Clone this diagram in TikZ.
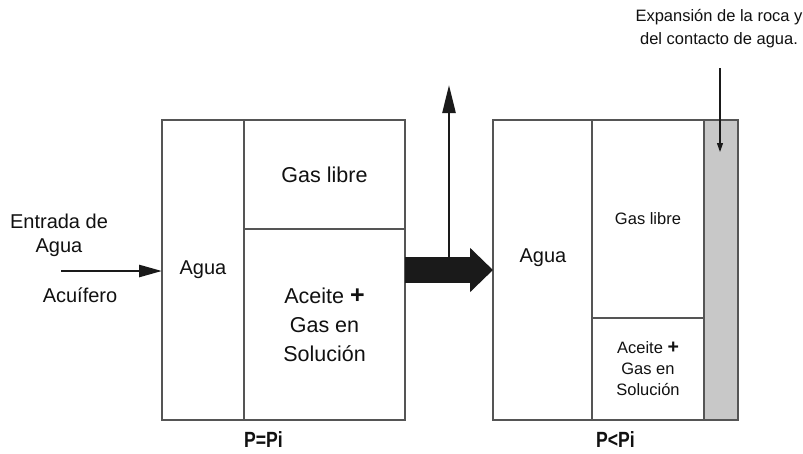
\documentclass[tikz,border=0pt]{standalone}
\usepackage{fontspec}
\setmainfont{Liberation Sans}
\usetikzlibrary{arrows.meta}
\definecolor{boxc}{HTML}{555555}
\definecolor{txt}{HTML}{111111}
\definecolor{stripc}{HTML}{C8C8C8}
\definecolor{arr}{HTML}{1A1A1A}
\begin{document}
\begin{tikzpicture}[x=1pt,y=-1pt,
  cell/.style={draw=boxc, line width=1.3pt, anchor=north west, inner sep=0pt, outer sep=0pt, text=txt, align=center},
  big/.style={font=\fontsize{21.5}{29}\selectfont},
  small/.style={font=\fontsize{16.5}{21}\selectfont},
  side/.style={text=txt, inner sep=0pt, align=center, font=\fontsize{20}{24}\selectfont},
  plabel/.style={text=txt, inner sep=0pt, anchor=west, font=\fontsize{22}{24}\selectfont\bfseries},
  bottomedge/.style={draw=boxc, line width=2.2pt},
  flowarrow/.style={draw=arr, line width=2.6pt, -{Triangle[length=23pt,width=12pt]}}
]
\useasboundingbox[fill=white] (0,0) rectangle (803,453);

% left state
\node[cell, minimum width=82pt, minimum height=300pt, side] (lagua) at (162,120) {Agua};
\node[cell, minimum width=161pt, minimum height=109pt, big] (lgas) at (244,120) {Gas libre};
\node[cell, minimum width=161pt, minimum height=191pt, big] (lsol) at (244,229) {Aceite {\fontsize{25}{29}\selectfont\textbf{+}}\\Gas en\\Soluci\'on};
\draw[bottomedge] (lagua.south west) -- (lsol.south east);

% right state
\node[cell, minimum width=99pt, minimum height=300pt] (ragua) at (493,120) {};
\node[side] (raguat) at (543,258) {Agua};
\node[cell, minimum width=112pt, minimum height=198pt, small] (rgas) at (592,120) {Gas libre};
\node[cell, minimum width=112pt, minimum height=102pt, small] (rsol) at (592,318) {Aceite {\fontsize{19.5}{21}\selectfont\textbf{+}}\\Gas en\\Soluci\'on};
\node[cell, minimum width=34pt, minimum height=300pt, fill=stripc] (strip) at (704,120) {};
\draw[bottomedge] (ragua.south west) -- (strip.south east);

% labels
\node[plabel] (pleft) at (244,440) {\scalebox{0.8}[1]{P=Pi}};
\node[plabel] (pright) at (596,440) {\scalebox{0.8}[1]{P<Pi}};

% water inflow
\node[side] (entrada) at (59,235) {Entrada de\\Agua};
\node[side] (acuifero) at (80,295) {Acu\'ifero};
\coordinate (ent) at (61,271);
\draw[flowarrow] (ent) -- (ent -| lagua.west);

% big transition arrow
\coordinate (ay) at (0,270);
\draw[arr, line width=26pt, -{Triangle[length=23pt,width=43pt]}] (lsol.east |- ay) -- (ragua.west |- ay);

% production arrow
\coordinate (upend) at (449,85);
\draw[arr, line width=2.5pt, -{Triangle[length=28pt,width=13pt]}] (upend |- ay) -- (upend);

% expansion
\node[text=txt, inner sep=0pt, align=center, font=\fontsize{16.5}{23}\selectfont] (expan) at (719,28.5) {Expansi\'on de la roca y\\del contacto de agua.};
\coordinate (expstart) at (720,68);
\coordinate (expend) at (720,152);
\draw[arr, line width=1.1pt, -{Triangle[length=9pt,width=6pt]}] (expstart) -- (expend);
\end{tikzpicture}
\end{document}
